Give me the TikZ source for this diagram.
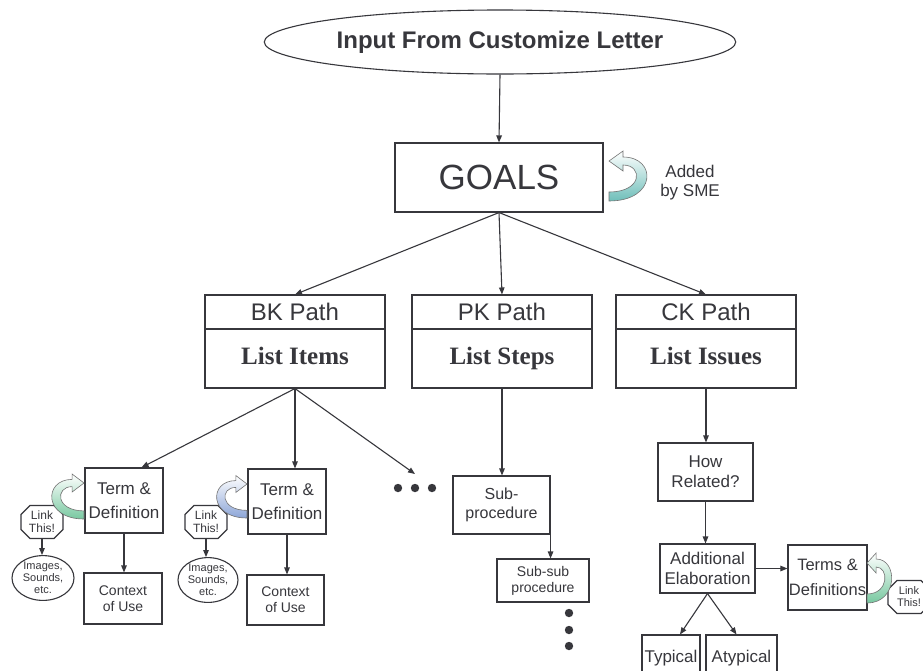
\documentclass[tikz,border=0pt]{standalone}
\usepackage{fontspec}
\setmainfont{Liberation Sans}
\newfontfamily\tnr{Liberation Serif}
\usetikzlibrary{shapes.geometric,shapes.misc,arrows.meta,calc}
\definecolor{ink}{RGB}{55,55,60}
\definecolor{teal1}{RGB}{110,190,185}
\definecolor{green1}{RGB}{120,200,160}
\definecolor{blue1}{RGB}{140,165,215}
\tikzset{
  ln/.style={draw=ink, line width=1.1pt},
  bx/.style={ln, fill=white, rectangle, inner sep=1pt, align=center, text=ink},
  arr/.style={ln, -{Triangle[length=7pt,width=5.5pt]}},
  fA/.style={font=\fontsize{17}{20}\selectfont},
  fB/.style={font=\fontsize{14}{16}\selectfont},
  fC/.style={font=\fontsize{11}{12}\selectfont},
  fD/.style={font=\fontsize{12}{13}\selectfont},
  pathhead/.style={bx, minimum width=180, minimum height=34, font=\fontsize{24}{26}\selectfont},
  pathbody/.style={bx, minimum width=180, minimum height=59, text height=17, text depth=5,
                   font=\tnr\bfseries\fontsize{25}{28}\selectfont},
  octa/.style={ln, fill=white, chamfered rectangle, chamfered rectangle sep=4.5pt,
               minimum width=42, minimum height=33, inner sep=0pt, align=center, text=ink, fD},
  blob/.style={ln, fill=white, ellipse, inner sep=0pt, align=center, text=ink, fC},
  pics/carrow/.style={code={
    \path[draw=black!55, line width=0.6pt, top color=white, bottom color=#1]
      (0,0) .. controls (48,0) and (48,-44) .. (14,-44) -- (14,-50) -- (0,-40)
      -- (14,-30) -- (14,-36) .. controls (34,-36) and (34,-9) .. (0,-9) -- cycle;
  }}
}
\begin{document}
\begin{tikzpicture}[x=1pt,y=-1pt]
\clip (0,0) rectangle (923,670);
\fill[white] (0,0) rectangle (923,670);

% top
\node[ellipse, ln, fill=white, minimum width=415, minimum height=64, text=ink,
      font=\fontsize{24}{28}\selectfont\bfseries] (in) at (500,42) {Input From Customize Letter};
\node[bx, minimum width=208, minimum height=69, font=\fontsize{35}{40}\selectfont] (goals) at (499,177.5) {GOALS};
\pic at (609,201) {carrow=teal1};
\node[fA, align=center, text=ink, inner sep=0pt] (sme) at (690,183) {Added\\[-1pt]by SME};

% path boxes
\node[pathhead] (bkh) at (295,312) {BK Path};
\node[pathbody] (bkb) at (295,358.5) {List Items};
\node[pathhead] (pkh) at (502,312) {PK Path};
\node[pathbody] (pkb) at (502,358.5) {List Steps};
\node[pathhead] (ckh) at (706,312) {CK Path};
\node[pathbody] (ckb) at (706,358.5) {List Issues};

% BK branch
\node[bx, fA, minimum width=78, minimum height=65] (term1) at (124,500.5) {Term \&\\[4pt]Definition};
\node[bx, fB, minimum width=78, minimum height=51] (ctx1) at (123,598.5) {Context\\of Use};
\node[octa] (link1) at (42,522) {Link\\This!};
\node[blob, minimum width=62, minimum height=38] (img1) at (43,578) {Images,\\Sounds,\\etc.};
\pic[xscale=-0.85, yscale=0.9] at (84,519) {carrow=green1};

\node[bx, fA, minimum width=78, minimum height=65] (term2) at (287,501.5) {Term \&\\[4pt]Definition};
\node[bx, fB, minimum width=77, minimum height=50] (ctx2) at (285.5,600) {Context\\of Use};
\node[octa] (link2) at (206,522) {Link\\This!};
\node[blob, minimum width=60, minimum height=37] (img2) at (208,580) {Images,\\Sounds,\\etc.};
\pic[xscale=-0.8, yscale=0.85] at (247,518) {carrow=blue1};

\coordinate (dotsend) at (415,474);
\fill[ink] (398,488) circle[radius=4.2] (415,488) circle[radius=4.2] (432,488) circle[radius=4.2];

% PK branch
\node[bx, font=\fontsize{16}{19}\selectfont, minimum width=97, minimum height=58] (sub) at (501.5,505) {Sub-\\procedure};
\node[bx, fB, minimum width=92, minimum height=43] (subsub) at (543,580.5) {Sub-sub\\procedure};
\fill[ink] (569,613) circle[radius=4.2] (569,630) circle[radius=4.2] (569,646) circle[radius=4.2];

% CK branch
\node[bx, fA, minimum width=95, minimum height=58] (how) at (705.5,472) {How\\Related?};
\node[bx, fA, minimum width=95, minimum height=49] (add) at (707.5,568.5) {Additional\\Elaboration};
\node[bx, font=\fontsize{16.5}{19}\selectfont, minimum width=79, minimum height=65] (terms) at (827.5,577.5) {Terms \&\\[6pt]Definitions};
\node[octa, fC] (link3) at (909,597) {Link\\This!};
\pic at (867,603) [xscale=0.65] {carrow=green1};
\node[bx, fA, minimum width=58, minimum height=46] (typ) at (671,658) {Typical};
\node[bx, fA, minimum width=71, minimum height=46] (atyp) at (741.5,658) {Atypical};

% connectors
\draw[arr] (in.south) -- (goals.north);
\draw[arr] (goals.south) -- (bkh.north);
\draw[arr] (goals.south) -- (pkh.north);
\draw[arr] (goals.south) -- (ckh.north);

\draw[arr] (bkb.south) -- ([xshift=-22]term1.north east);
\draw[arr] (bkb.south) -- (bkb.south |- term2.north);
\draw[arr] (bkb.south) -- (dotsend);
\draw[arr] (term1.south) -- (term1.south |- ctx1.north);
\draw[arr] (term2.south) -- (term2.south |- ctx2.north);
\draw[arr] (link1.south) -- (link1.south |- img1.north);
\draw[arr] (link2.south) -- (link2.south |- img2.north);

\draw[arr] (pkb.south) -- (pkb.south |- sub.north);
\draw[arr] (sub.south east) -- (sub.south east |- subsub.north);

\draw[arr] (ckb.south) -- (ckb.south |- how.north);
\draw[arr] (how.south) -- (how.south |- add.north);
\draw[arr] (add.east) -- (add.east -| terms.west);
\draw[arr] (add.south) -- ([xshift=9]typ.north);
\draw[arr] (add.south) -- ([xshift=-5]atyp.north);
\end{tikzpicture}
\end{document}
